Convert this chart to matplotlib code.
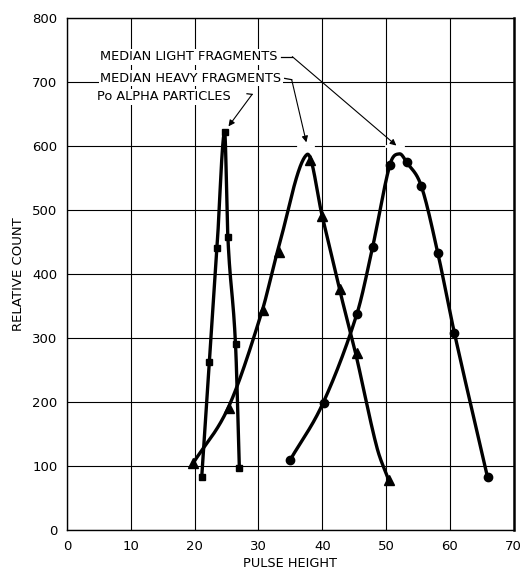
import numpy as np
import matplotlib
matplotlib.use("Agg")
import matplotlib.pyplot as plt

po_x = [21.1, 22.3, 23.5, 24.7, 25.2, 26.4, 27.0]
po_y = [82, 262, 441, 622, 458, 290, 97]

heavy_x = [19.8, 25.3, 30.7, 33.2, 38.0, 40.0, 42.7, 45.5, 50.4]
heavy_y = [105, 190, 344, 435, 578, 491, 376, 277, 78]

light_x = [35.0, 40.2, 45.4, 47.9, 50.6, 53.2, 55.5, 58.1, 60.7, 65.9]
light_y = [110, 198, 337, 443, 571, 575, 538, 433, 308, 82]

# ---- hand-drawn fitted curves ----
heavy_curve_x = [19.8, 25.3, 30.5, 33.0, 37.6, 40.0, 42.7, 45.2, 48.5, 50.4]
heavy_curve_y = [105, 192, 340, 436, 587, 490, 376, 277, 131, 78]

light_curve_x = [35.0, 40.1, 45.4, 47.9, 50.6, 52.1, 53.2, 55.5, 58.1, 60.7, 65.9]
light_curve_y = [110, 198, 337, 443, 571, 588, 575, 538, 433, 308, 82]

x_ticks = [0, 10, 20, 30, 40, 50, 60, 70]
y_ticks = [0, 100, 200, 300, 400, 500, 600, 700, 800]

labels = ["MEDIAN LIGHT FRAGMENTS", "MEDIAN HEAVY FRAGMENTS", "Po ALPHA PARTICLES"]


def hermite(x, y, m, n=500):
    x = np.asarray(x, float); y = np.asarray(y, float)
    h = np.diff(x); k = len(x)
    xs = np.linspace(x[0], x[-1], n)
    idx = np.clip(np.searchsorted(x, xs) - 1, 0, k - 2)
    t = (xs - x[idx]) / h[idx]
    h00 = 2 * t**3 - 3 * t**2 + 1; h10 = t**3 - 2 * t**2 + t
    h01 = -2 * t**3 + 3 * t**2; h11 = t**3 - t**2
    ys = h00 * y[idx] + h10 * h[idx] * m[idx] + h01 * y[idx + 1] + h11 * h[idx] * m[idx + 1]
    return xs, ys


def catmull(x, y):
    x = np.asarray(x, float); y = np.asarray(y, float)
    m = np.empty_like(y)
    m[1:-1] = (y[2:] - y[:-2]) / (x[2:] - x[:-2])
    m[0] = (y[1] - y[0]) / (x[1] - x[0])
    m[-1] = (y[-1] - y[-2]) / (x[-1] - x[-2])
    return hermite(x, y, m)


def pchip(x, y):
    x = np.asarray(x, float); y = np.asarray(y, float)
    h = np.diff(x); d = np.diff(y) / h
    k = len(x); m = np.zeros(k)
    for i in range(1, k - 1):
        if d[i - 1] * d[i] > 0:
            w1 = 2 * h[i] + h[i - 1]; w2 = h[i] + 2 * h[i - 1]
            m[i] = (w1 + w2) / (w1 / d[i - 1] + w2 / d[i])
    m[0] = d[0]; m[-1] = d[-1]
    return hermite(x, y, m)


plt.rcParams['font.family'] = ['DejaVu Sans']
fig = plt.figure(figsize=(5.28, 5.71), dpi=100)
ax = fig.add_axes([0.127, 0.072, 0.846, 0.896])

ax.set_xlim(0, 70)
ax.set_ylim(0, 800)
ax.set_xticks(x_ticks)
ax.set_yticks(y_ticks)
ax.tick_params(length=0, labelsize=9.5, pad=7)
ax.grid(True, color='black', linewidth=0.8)
ax.set_axisbelow(True)
for s in ax.spines.values():
    s.set_linewidth(1.0)
ax.spines['right'].set_linewidth(1.8)

lw = 2.4
xs, ys = pchip(po_x, po_y)
ax.plot(xs, ys, color='black', lw=lw, solid_capstyle='round')
ax.plot(po_x, po_y, 's', color='black', ms=5)

xs, ys = catmull(heavy_curve_x, heavy_curve_y)
ax.plot(xs, ys, color='black', lw=lw, solid_capstyle='round')
ax.plot(heavy_x, heavy_y, '^', color='black', ms=6.5)

xs, ys = catmull(light_curve_x, light_curve_y)
ax.plot(xs, ys, color='black', lw=lw, solid_capstyle='round')
ax.plot(light_x, light_y, 'o', color='black', ms=6)

ax.set_xlabel("PULSE HEIGHT", fontsize=9.3, labelpad=3)
ax.set_ylabel("RELATIVE COUNT", fontsize=9.5, labelpad=5)

# small breaks in the 600 grid line where the arrows end
for a, b in [(36.2, 38.5), (50.0, 52.6)]:
    ax.plot([a, b], [600, 600], color='white', lw=2.0, zorder=1)

# annotations
fs = 9.3
bb = dict(facecolor='white', edgecolor='none', pad=1)
ax.text(5.2, 740, labels[0], fontsize=fs, va='center', ha='left', bbox=bb)
ax.text(5.2, 706, labels[1], fontsize=fs, va='center', ha='left', bbox=bb)
ax.text(4.7, 677, labels[2], fontsize=fs, va='center', ha='left', bbox=bb)

arrow = dict(arrowstyle='-|>', lw=0.8, color='black', mutation_scale=9,
             shrinkA=0, shrinkB=0)
ax.plot([33.6, 35.3], [740, 740], color='black', lw=0.9)
ax.annotate('', xy=(51.6, 601), xytext=(35.3, 740), arrowprops=arrow)
ax.plot([34.1, 35.2], [706, 704], color='black', lw=0.9)
ax.annotate('', xy=(37.5, 606), xytext=(35.2, 704), arrowprops=arrow)
ax.plot([28.2, 29.0], [682, 681], color='black', lw=0.9)
ax.annotate('', xy=(25.3, 631), xytext=(29.0, 681), arrowprops=arrow)

fig.savefig("out.png", dpi=100, facecolor='white')
